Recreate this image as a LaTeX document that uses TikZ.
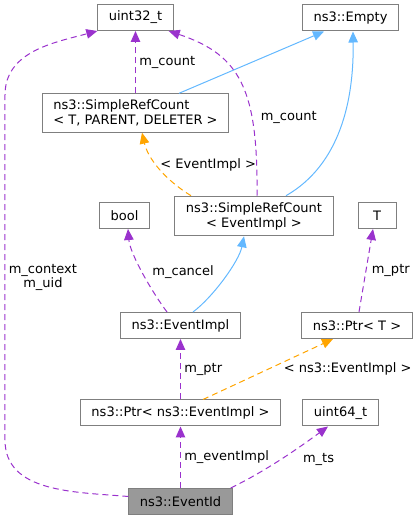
\documentclass[tikz,border=0pt]{standalone}
\usepackage{fontspec}
\setmainfont{DejaVu Sans}
\usepackage{tikz}
\usetikzlibrary{arrows.meta}
\definecolor{boxgray}{HTML}{7F7F7F}
\definecolor{mainfill}{HTML}{999999}
\definecolor{usepurple}{HTML}{9A32CD}
\definecolor{baseblue}{HTML}{63B8FF}
\definecolor{tmplorange}{HTML}{FFA500}
\tikzstyle{classbox} = [draw=boxgray, fill=white, rectangle, line width=1pt, minimum height=26pt, minimum width=38pt, inner xsep=11pt, inner ysep=6pt]
\tikzstyle{member} = [-{Triangle[length=11pt,width=9.5pt]}, usepurple, line width=1pt, dash pattern=on 6pt off 4pt]
\tikzstyle{inherit} = [-{Triangle[length=11pt,width=9.5pt]}, baseblue, line width=1pt]
\tikzstyle{tmpl} = [-{Triangle[length=11pt,width=9.5pt]}, tmplorange, line width=1pt, dash pattern=on 6pt off 4pt]
\tikzstyle{lbl} = [text=black]

\begin{document}
\begin{tikzpicture}[node distance=88.5pt, font=\fontsize{13pt}{15pt}\selectfont]

        % Bounding box
        \useasboundingbox (-180.5pt,-18.5pt) rectangle (236.5pt,501.5pt);

        % Main class
        \node (eventid) [classbox, fill=mainfill] {ns3::EventId};

        % Members and bases
        \node (ptrimpl) [classbox, above of=eventid] {ns3::Ptr< ns3::EventImpl >};
        \node (uint64) [classbox, above of=eventid, xshift=160pt] {uint64\_t};
        \node (eventimpl) [classbox, above of=ptrimpl, yshift=-1pt] {ns3::EventImpl};
        \node (ptrT) [classbox, above of=ptrimpl, xshift=176.5pt, yshift=-1pt] {ns3::Ptr< T >};
        \node (srcimpl) [classbox, align=center, above of=eventimpl, xshift=73.5pt, yshift=21pt] {ns3::SimpleRefCount\\< EventImpl >};
        \node (bool) [classbox, above of=eventimpl, xshift=-56pt, yshift=21.5pt] {bool};
        \node (T) [classbox, above of=eventimpl, xshift=196.5pt, yshift=21.5pt] {T};
        \node (srcT) [classbox, align=left, above of=srcimpl, xshift=-118.5pt, yshift=14.5pt] {ns3::SimpleRefCount\\< T, PARENT, DELETER >};
        \node (uint32) [classbox, above of=srcT, yshift=7pt] {uint32\_t};
        \node (empty) [classbox, above of=srcT, xshift=215pt, yshift=6.5pt] {ns3::Empty};

        % Connections from ns3::EventId
        \draw [member] ([yshift=5pt]eventid.west) to[out=175, in=-90] (-175.5pt,61.5pt) -- node[lbl, pos=0.47, right, align=center] {m\_context\\[-1pt]m\_uid} (-175.5pt,406.5pt) to[out=90, in=195] (uint32.south west);
        \draw [member] (eventid) -- node[lbl, midway, right] {m\_eventImpl} (ptrimpl);
        \draw [member] ([xshift=-2pt]eventid.north east) .. controls +(35pt,17pt) and +(-30pt,-22pt) .. node[lbl, pos=0.5, right, xshift=18pt] {m\_ts} ([xshift=-12.5pt]uint64.south);

        % Connections between members
        \draw [member] (ptrimpl) -- node[lbl, midway, right] {m\_ptr} (eventimpl);
        \draw [tmpl] ([xshift=22.5pt]ptrimpl.north) -- node[lbl, midway, right, xshift=12pt] {< ns3::EventImpl >} ([xshift=-24pt]ptrT.south);
        \draw [member] ([xshift=2pt]ptrT.north) -- node[lbl, midway, right, xshift=2pt] {m\_ptr} ([xshift=-4pt]T.south);
        \draw [member] ([xshift=-13.5pt]eventimpl.north) .. controls +(-15pt,20pt) and +(2pt,-25pt) .. node[lbl, pos=0.5, right, xshift=6pt] {m\_cancel} ([xshift=3.5pt]bool.south);
        \draw [inherit] ([xshift=12.5pt]eventimpl.north) .. controls +(20pt,15pt) and +(-5pt,-25pt) .. ([xshift=-10pt]srcimpl.south);

        % Relationships of the reference counters
        \draw [tmpl] ([xshift=-63pt]srcimpl.north) .. controls +(-26pt,16pt) and +(6pt,-26pt) .. node[lbl, pos=0.55, right] {< EventImpl >} ([xshift=6.5pt]srcT.south);
        \draw [member] ([xshift=3pt]srcimpl.north) .. controls +(1pt,106pt) and +(72pt,-24pt) .. node[lbl, pos=0.3, right, xshift=5pt] {m\_count} ([xshift=-5pt]uint32.south east);
        \draw [inherit] ([xshift=32pt]srcimpl.north) .. controls +(54pt,31pt) and +(1pt,-69pt) .. ([xshift=2.5pt]empty.south);
        \draw [member] (srcT) -- node[lbl, midway, right] {m\_count} (uint32);
        \draw [inherit] ([xshift=43.5pt]srcT.north) -- ([xshift=-26.5pt]empty.south);

    \end{tikzpicture}
\end{document}
